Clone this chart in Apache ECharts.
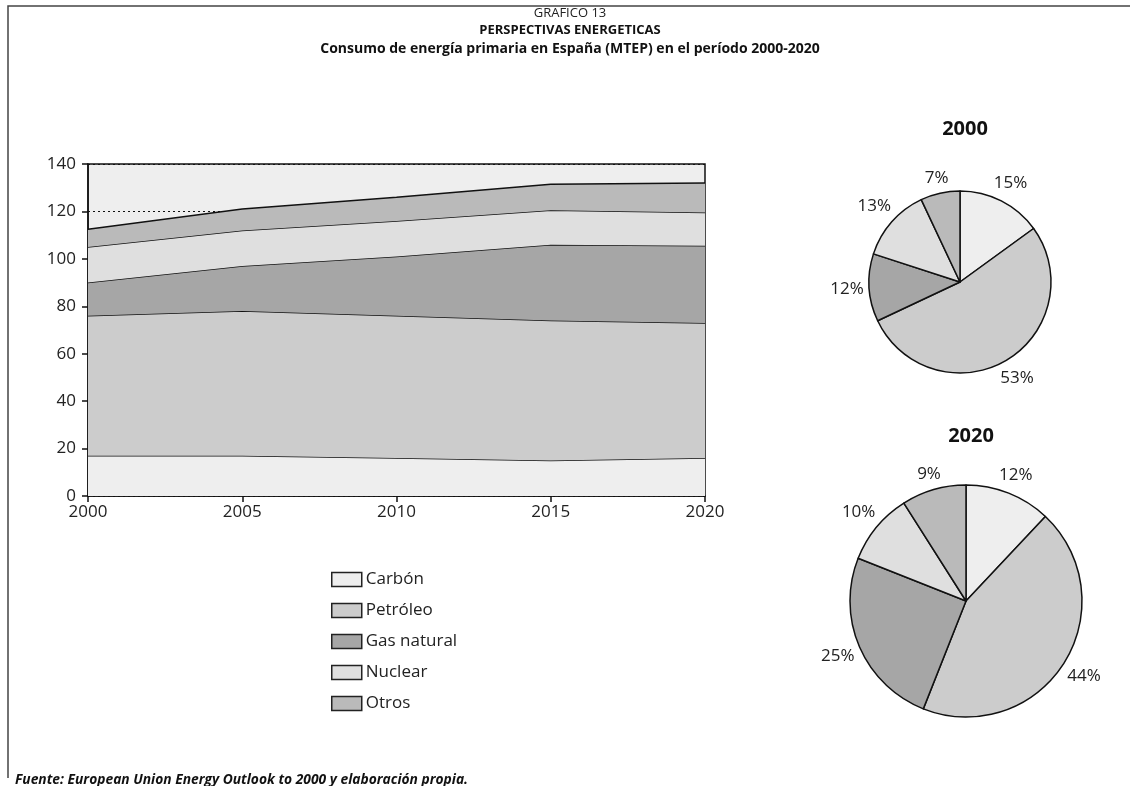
<!DOCTYPE html>
<html>
<head>
<meta charset="utf-8">
<script src="https://cdn.jsdelivr.net/npm/echarts@6/dist/echarts.min.js"></script>
<style>
  html, body { margin: 0; padding: 0; background: #fff; }
  #chart { width: 1130px; height: 786px; }
</style>
</head>
<body>
<div id="chart"></div>
<script>
// 数据
const years = ['2000', '2005', '2010', '2015', '2020']
const fuentes = ['Carbón', 'Petróleo', 'Gas natural', 'Nuclear', 'Otros']
const carbon = [17, 17, 16, 15, 16]
const petroleo = [59, 61, 60, 59, 57]
const gasNatural = [14, 19, 25, 32, 32.5]
const nuclear = [15, 15, 15, 14.5, 14]
const otros = [7.5, 9, 10, 11, 12.5]
const pie2000 = [15, 53, 12, 13, 7]
const pie2020 = [12, 44, 25, 10, 9]
const yTicks = [0, 20, 40, 60, 80, 100, 120, 140]

const colores = ['#eeeeee', '#cccccc', '#a6a6a6', '#dfdfdf', '#bababa']
const fontFam = '"Open Sans", "Noto Sans", sans-serif'
const areaData = [carbon, petroleo, gasNatural, nuclear, otros]

const areaSeries = fuentes.map((name, i) => ({
  name: name,
  type: 'line',
  stack: 'total',
  data: areaData[i],
  symbol: 'none',
  lineStyle: { color: '#111', width: 1.5 },
  areaStyle: { color: colores[i], opacity: 1 },
  itemStyle: { color: colores[i], borderColor: '#222', borderWidth: 1.5 },
  z: 2 + i
}))

// 饼图标签放在扇区中线外侧, 标签框刚好贴着圆周
function pieSerie (data, cx, cy, r) {
  let total = data.reduce((a, b) => a + b, 0)
  let acc = 0
  let mids = data.map(v => {
    let a = (acc + v / 2) / total * Math.PI * 2
    acc += v
    return a
  })
  return {
    type: 'pie',
    center: [cx, cy],
    radius: r,
    startAngle: 90,
    clockwise: true,
    silent: true,
    data: data.map((v, i) => ({ value: v, name: fuentes[i] })),
    itemStyle: {
      color: (p) => colores[p.dataIndex],
      borderColor: '#111',
      borderWidth: 1.5
    },
    label: {
      show: true,
      position: 'inside',
      formatter: '{c}%',
      fontFamily: fontFam,
      fontSize: 17,
      color: '#222',
      textBorderWidth: 0
    },
    labelLine: { show: false },
    labelLayout: function (params) {
      let a = mids[params.dataIndex]
      let dx = Math.sin(a)
      let dy = -Math.cos(a)
      let w = params.labelRect.width
      let h = params.labelRect.height
      let d = r + 5 + Math.abs(dx) * w / 2 + Math.abs(dy) * h / 2
      return { x: cx + dx * d, y: cy + dy * d, align: 'center', verticalAlign: 'middle' }
    }
  }
}

const option = {
  backgroundColor: '#fff',
  animation: false,
  title: [
    {
      text: 'GRAFICO 13',
      left: 565, top: 2, textAlign: 'center',
      textStyle: { fontFamily: fontFam, fontSize: 13, fontWeight: 'normal', color: '#222' }
    },
    {
      text: 'PERSPECTIVAS ENERGETICAS',
      left: 565, top: 19, textAlign: 'center',
      textStyle: { fontFamily: fontFam, fontSize: 13, fontWeight: 'bold', color: '#111' }
    },
    {
      text: 'Consumo de energía primaria en España (MTEP) en el período 2000-2020',
      left: 565, top: 37, textAlign: 'center',
      textStyle: { fontFamily: fontFam, fontSize: 14, fontWeight: 'bold', color: '#111' }
    },
    {
      text: '2000',
      left: 960, top: 114, textAlign: 'center',
      textStyle: { fontFamily: fontFam, fontSize: 20, fontWeight: 'bold', color: '#111' }
    },
    {
      text: '2020',
      left: 966, top: 421, textAlign: 'center',
      textStyle: { fontFamily: fontFam, fontSize: 20, fontWeight: 'bold', color: '#111' }
    },
    {
      text: 'Fuente: European Union Energy Outlook to 2000 y elaboración propia.',
      left: 10, top: 768,
      textStyle: { fontFamily: fontFam, fontSize: 13.8, fontWeight: 'bold', fontStyle: 'italic', color: '#111' }
    }
  ],
  legend: {
    orient: 'vertical',
    left: 326, top: 566,
    itemWidth: 30, itemHeight: 14, itemGap: 14,
    icon: 'rect',
    data: fuentes,
    textStyle: { fontFamily: fontFam, fontSize: 17, color: '#222', padding: [0, 0, 0, -1] },
    itemStyle: { borderColor: '#222', borderWidth: 1.5 }
  },
  grid: {
    left: 88, top: 164, width: 617, height: 332,
    show: true, backgroundColor: '#eeeeee', borderColor: '#111', borderWidth: 1.5,
    containLabel: false
  },
  xAxis: {
    type: 'category',
    data: years,
    boundaryGap: false,
    axisLine: { lineStyle: { color: '#111', width: 1.5 } },
    axisTick: { show: true, alignWithLabel: true, length: 6, lineStyle: { color: '#111', width: 1.5 } },
    axisLabel: { fontFamily: fontFam, fontSize: 17, color: '#222', margin: 8 },
    splitLine: { show: false }
  },
  yAxis: {
    type: 'value',
    min: yTicks[0], max: yTicks[yTicks.length - 1], interval: 20,
    axisLine: { show: true, lineStyle: { color: '#111', width: 1.5 } },
    axisTick: { show: true, length: 6, lineStyle: { color: '#111', width: 1.5 } },
    axisLabel: { fontFamily: fontFam, fontSize: 17, color: '#222', margin: 12 },
    splitLine: { show: true, lineStyle: { color: '#111', type: [2, 3], width: 1 } }
  },
  series: [
    ...areaSeries,
    pieSerie(pie2000, 960, 282, 91),
    pieSerie(pie2020, 966, 601, 116)
  ],
  graphic: [
    {
      type: 'polyline',
      shape: { points: [[8, 778], [8, 6], [1130, 6]] },
      style: { stroke: '#444', lineWidth: 1.5, fill: null },
      silent: true
    }
  ]
}

const myChart = echarts.init(document.getElementById('chart'), null, { renderer: 'canvas' })
myChart.setOption(option)
</script>
</body>
</html>
